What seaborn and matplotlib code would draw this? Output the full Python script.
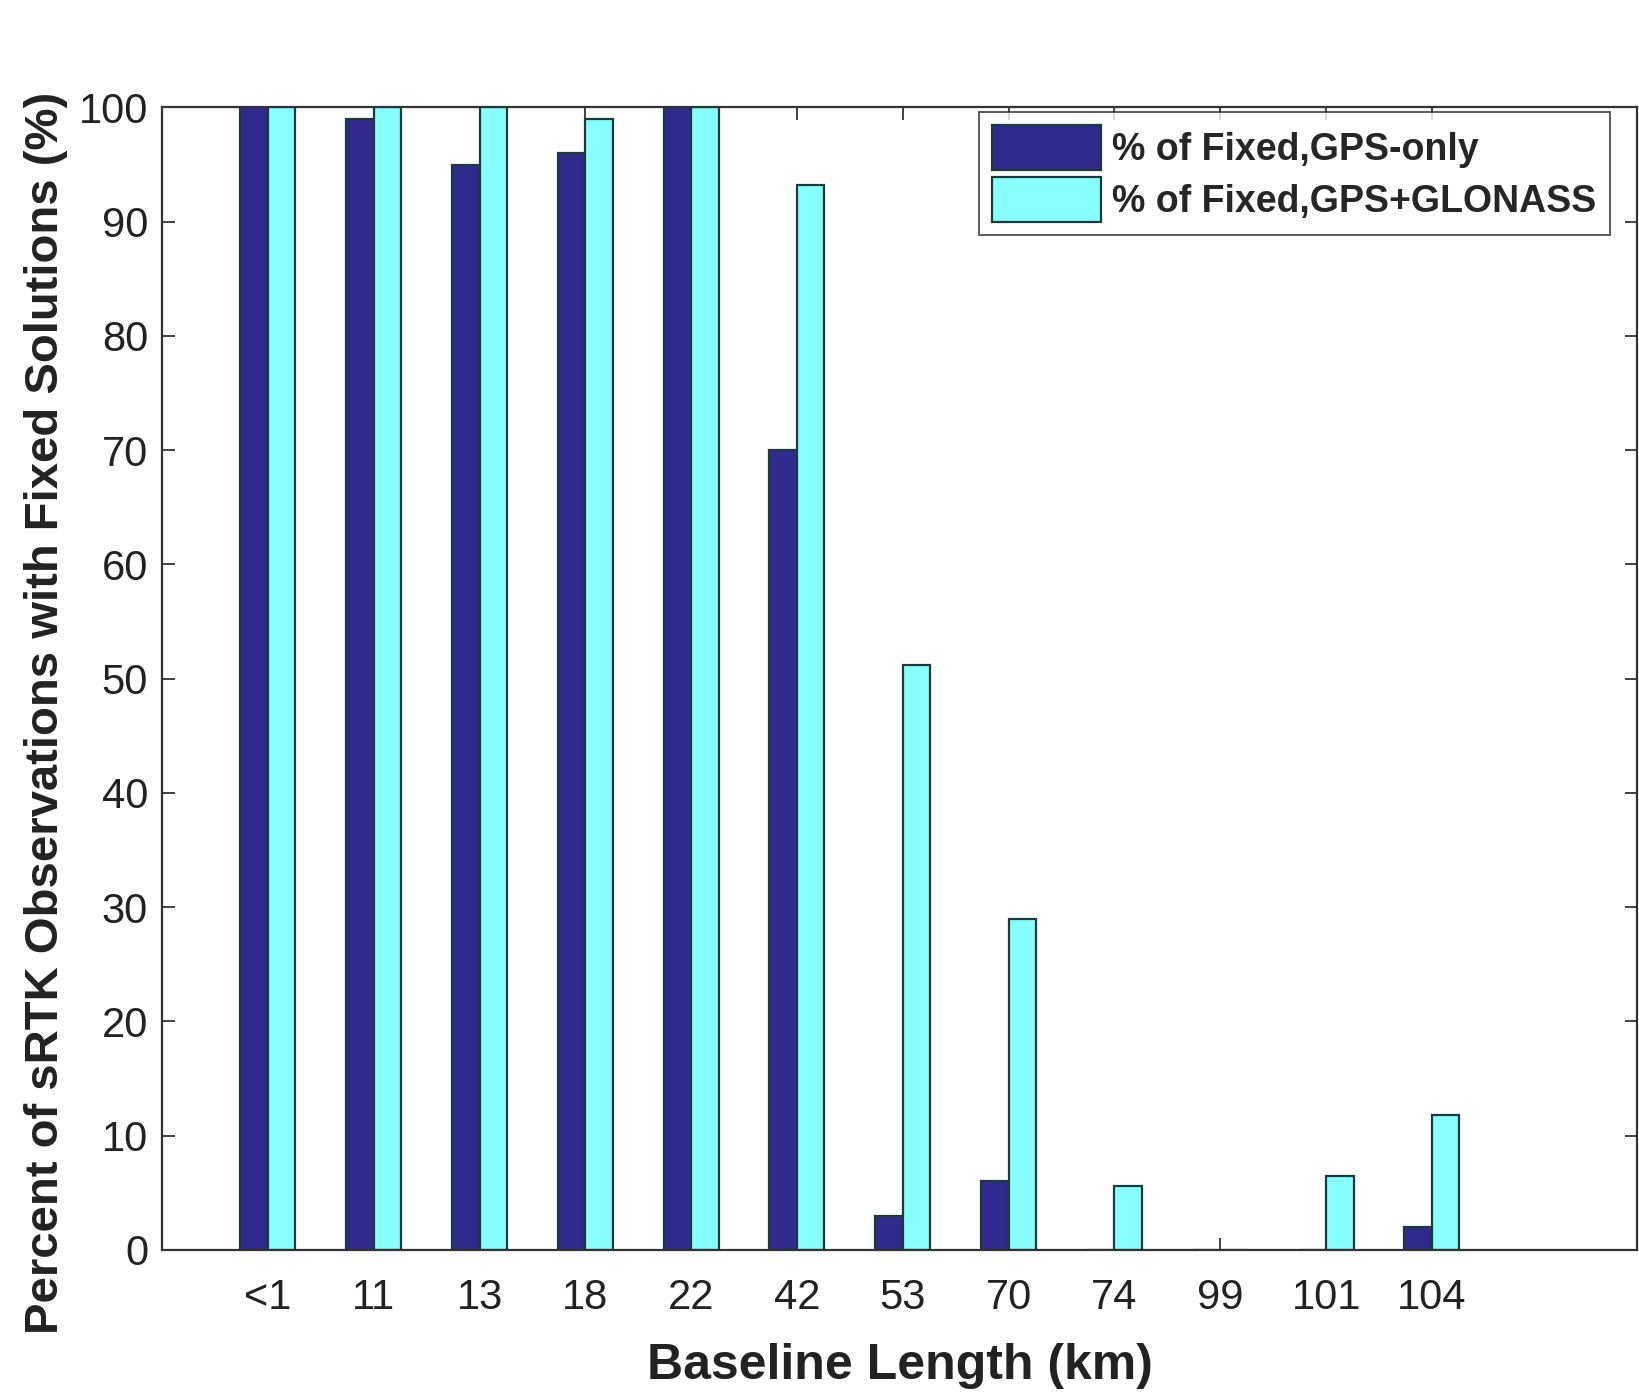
import matplotlib
matplotlib.use("Agg")
import matplotlib.pyplot as plt
import seaborn as sns
import pandas as pd

categories = ["<1", "11", "13", "18", "22", "42", "53", "70", "74", "99", "101", "104"]
gps_only = [100, 99, 95, 96, 100, 70, 3, 6, 0, 0, 0, 2]
gps_glonass = [100, 100, 100, 99, 100, 93.2, 51.2, 29, 5.6, 0, 6.5, 11.8]
series_names = ["% of Fixed,GPS-only", "% of Fixed,GPS+GLONASS"]
yticks = [0, 10, 20, 30, 40, 50, 60, 70, 80, 90, 100]

df = pd.DataFrame({
    "Baseline": categories * 2,
    "Percent": gps_only + gps_glonass,
    "Series": [series_names[0]] * len(categories) + [series_names[1]] * len(categories),
})

sns.set_theme(style="white")
plt.rcParams["font.family"] = ["Liberation Sans", "DejaVu Sans"]

fig = plt.figure(figsize=(16.4, 13.95), dpi=100)
ax = fig.add_axes([0.0988, 0.104, 0.8995, 0.819])

palette = {series_names[0]: "#2F2A8C", series_names[1]: "#88FFFF"}
sns.barplot(data=df, x="Baseline", y="Percent", hue="Series", order=categories,
            hue_order=series_names, palette=palette, width=0.52, saturation=1,
            edgecolor="#1d3a3a", linewidth=1.6, ax=ax, errorbar=None)

ax.set_xlim(-1, 12.94)
ax.set_ylim(0, 100)
ax.set_yticks(yticks)
ax.set_yticklabels([str(v) for v in yticks], fontsize=30)
ax.set_xticks(range(len(categories)))
ax.set_xticklabels(categories, fontsize=30)
ax.tick_params(direction="in", length=9, width=1.2, top=True, right=True,
               bottom=True, left=True, colors="#222222", labelcolor="#222222")
ax.tick_params(axis="x", pad=20)
ax.tick_params(axis="y", pad=10)
for s in ax.spines.values():
    s.set_visible(True)
    s.set_color("#333333")
    s.set_linewidth(1.6)

ax.set_xlabel("Baseline Length (km)", fontsize=36, fontweight="bold", color="#222222", labelpad=18)
ax.set_ylabel("Percent of sRTK Observations with Fixed Solutions (%)", fontsize=34,
              fontweight="bold", color="#222222")
ax.yaxis.set_label_coords(-0.064, 0.47)

leg = ax.legend(loc="upper left", bbox_to_anchor=(0.554, 0.996),
                prop={"weight": "bold", "size": 27}, frameon=True, fancybox=False,
                handlelength=2.9, handleheight=1.45, handletextpad=0.3,
                borderpad=0.35, labelspacing=0.2, borderaxespad=0)
leg.get_frame().set_edgecolor("#333333")
leg.get_frame().set_linewidth(1.4)

fig.savefig("out.png", dpi=100, facecolor="white")
